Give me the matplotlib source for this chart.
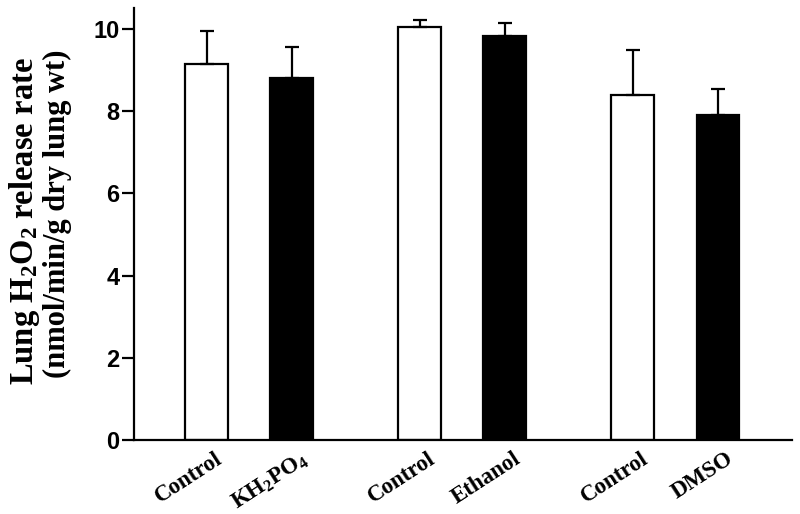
import matplotlib
matplotlib.use("Agg")
import matplotlib.pyplot as plt
import matplotlib.transforms as mtransforms
import numpy as np

plt.rcParams['mathtext.fontset'] = 'custom'
plt.rcParams['mathtext.rm'] = 'Liberation Serif:bold'
plt.rcParams['mathtext.it'] = 'Liberation Serif:bold'
plt.rcParams['mathtext.bf'] = 'Liberation Serif:bold'

labels = ['Control', 'KH$_2$PO$_4$', 'Control', 'Ethanol', 'Control', 'DMSO']
positions = [0, 2, 5, 7, 10, 12]
values = [9.15, 8.80, 10.04, 9.84, 8.39, 7.91]
errors = [0.79, 0.76, 0.19, 0.30, 1.11, 0.64]
colors = ['white', 'black', 'white', 'black', 'white', 'black']
yticks = [0, 2, 4, 6, 8, 10]

fig = plt.figure(figsize=(8, 5.14), dpi=100)
ax = fig.add_axes([134.3 / 800, 74 / 514, (792 - 134.3) / 800, 432 / 514])

ax.bar(positions, values, width=1.0, color=colors, edgecolor='black', linewidth=1.6, zorder=2)
ax.errorbar(positions, values, yerr=[[0] * 6, errors], fmt='none', ecolor='black',
            elinewidth=1.6, capsize=5, capthick=1.6, zorder=3)

ax.set_xlim(-1.695, 13.74)
ax.set_ylim(0, 10.51)
ax.spines['top'].set_visible(False)
ax.spines['right'].set_visible(False)
ax.spines['left'].set_linewidth(1.6)
ax.spines['bottom'].set_linewidth(1.6)
ax.set_yticks(yticks)
ax.set_yticklabels([str(t) for t in yticks], fontfamily='Liberation Sans', fontweight='bold', fontsize=17)
ax.tick_params(axis='y', direction='out', length=8.5, width=1.6, pad=2)
ax.set_xticks(positions)
ax.set_xticklabels(labels, rotation=33, ha='right', rotation_mode='anchor',
                   fontfamily='Liberation Serif', fontweight='bold', fontsize=16.5)
ax.tick_params(axis='x', length=0, pad=6)
offset = mtransforms.ScaledTranslation(8 / 100, 0, fig.dpi_scale_trans)
for lab in ax.get_xticklabels():
    lab.set_transform(lab.get_transform() + offset)

fig.text(25 / 800, 0.57, r'Lung H$_2$O$_2$ release rate', rotation=90, ha='center', va='center',
         fontfamily='Liberation Serif', fontweight='bold', fontsize=23.5)
fig.text(57 / 800, 0.585, '(nmol/min/g dry lung wt)', rotation=90, ha='center', va='center',
         fontfamily='Liberation Serif', fontweight='bold', fontsize=22)

fig.savefig('out.png', dpi=100)
